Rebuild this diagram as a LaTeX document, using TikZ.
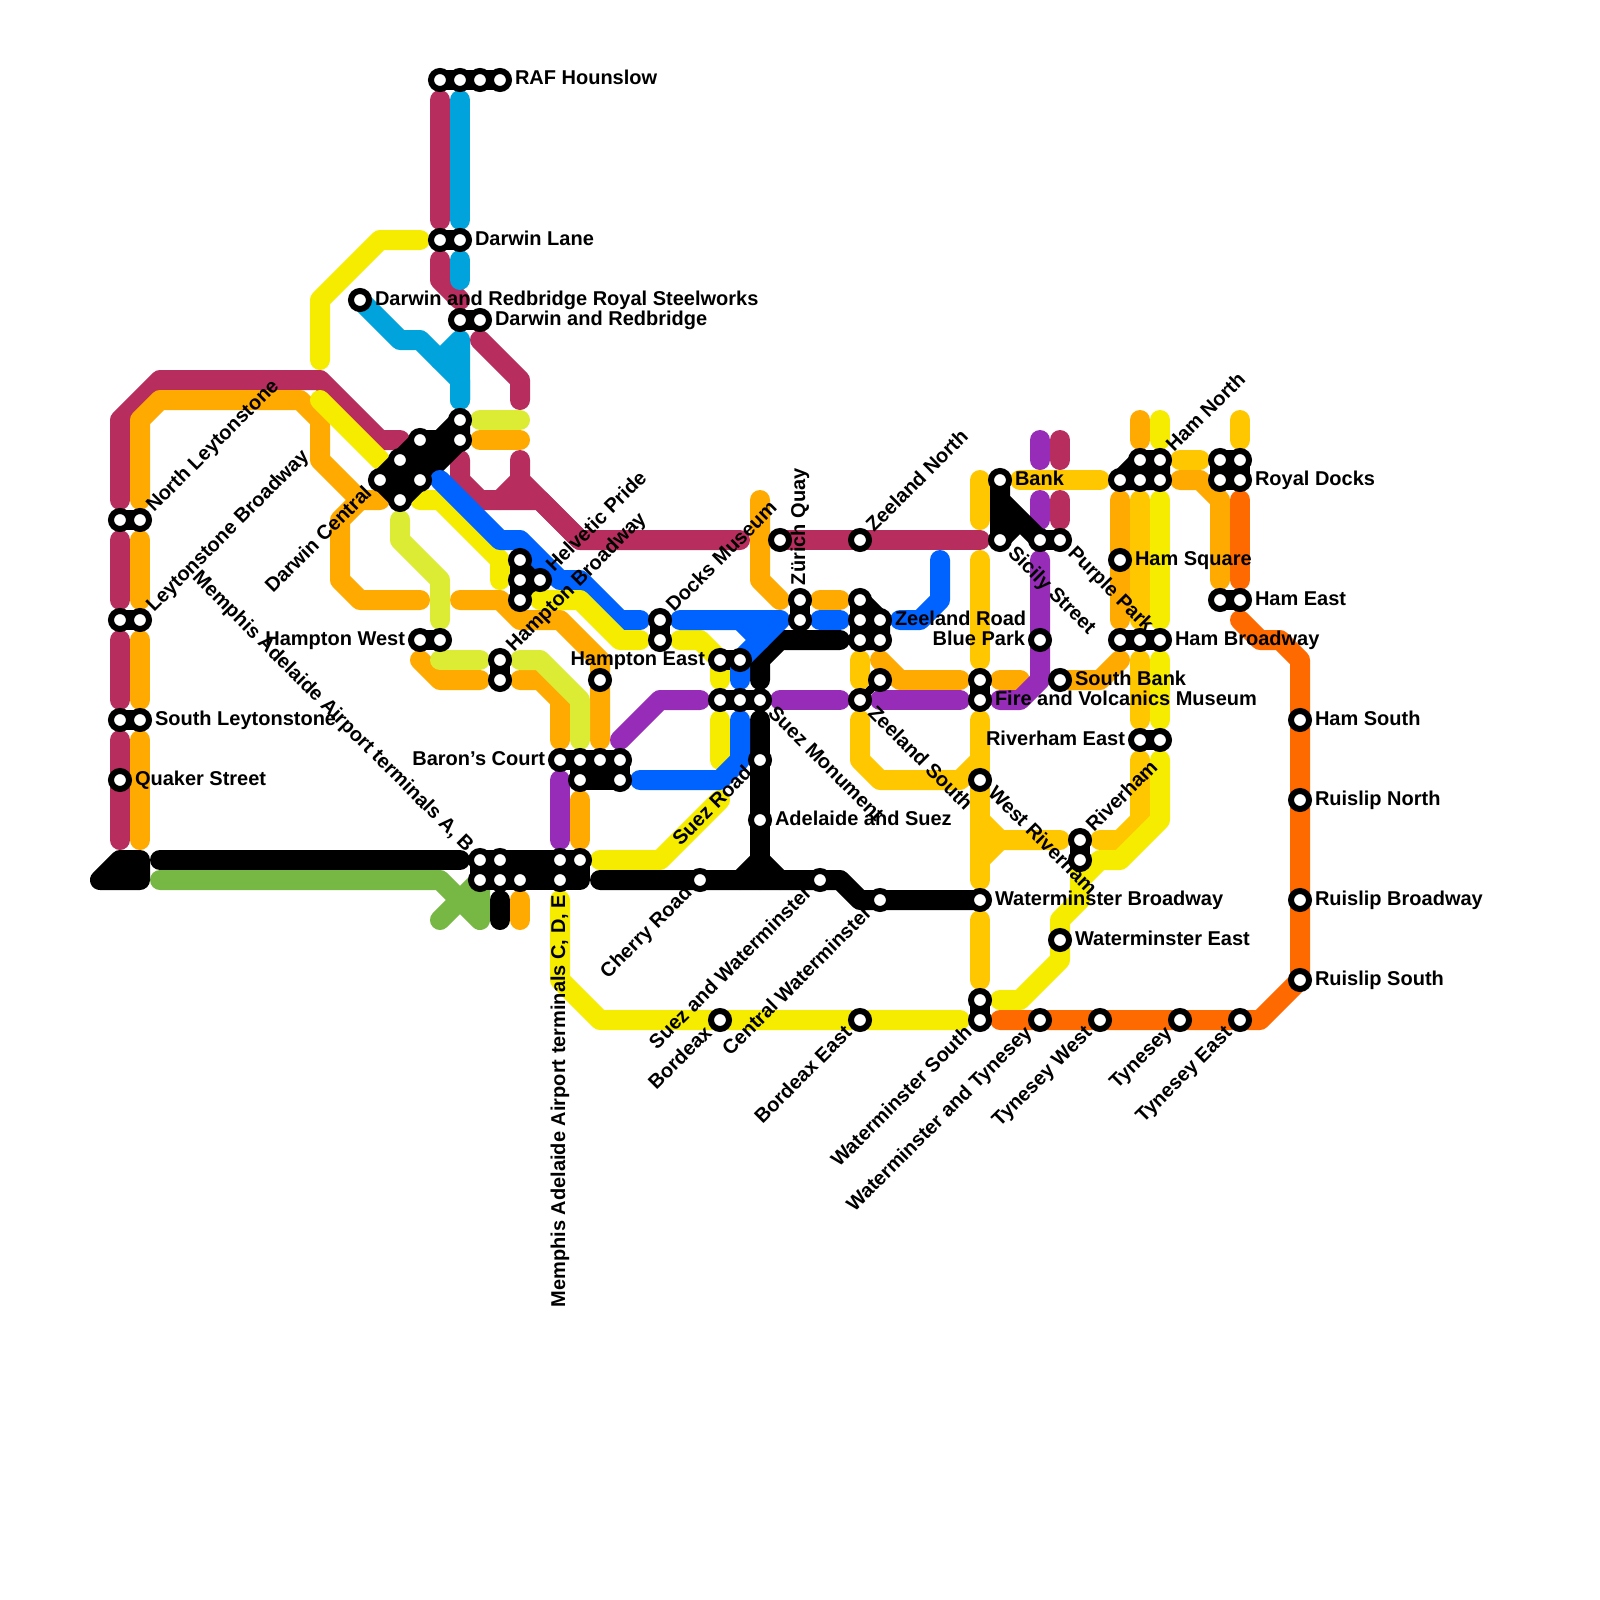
\documentclass[tikz,border=0pt]{standalone}
\usepackage{fontspec}
\setmainfont{Liberation Sans}
\definecolor{crim}{HTML}{B72E5E}
\definecolor{orng}{HTML}{FFAA00}
\definecolor{ambr}{HTML}{FFC700}
\definecolor{yell}{HTML}{F5EC00}
\definecolor{lime}{HTML}{DCEC35}
\definecolor{cyan}{HTML}{00A3DC}
\definecolor{blu}{HTML}{0062FF}
\definecolor{purp}{HTML}{972CB8}
\definecolor{dorg}{HTML}{FF6A00}
\definecolor{grn}{HTML}{76B843}
\pgfdeclarelayer{railsl}
\pgfdeclarelayer{linkl}
\pgfsetlayers{railsl,linkl,main}
\tikzset{
  rail/.style={line width=20pt,line cap=round,line join=round},
  crimrail/.style={rail,draw=crim},
  orngrail/.style={rail,draw=orng},
  ambrrail/.style={rail,draw=ambr},
  yellrail/.style={rail,draw=yell},
  limerail/.style={rail,draw=lime},
  cyanrail/.style={rail,draw=cyan},
  blurail/.style={rail,draw=blu},
  purprail/.style={rail,draw=purp},
  dorgrail/.style={rail,draw=dorg},
  grnrail/.style={rail,draw=grn},
  blackrail/.style={rail,draw=black},
  blackblock/.style={rail,draw=black,fill=black},
  thinlink/.style={line width=8pt,draw=black},
  stn/.style={circle,draw=black,fill=white,line width=6pt,minimum size=18pt,inner sep=0pt,outer sep=0pt},
  lab/.style={inner sep=0pt,outer sep=0pt,font=\fontsize{20}{22}\selectfont\bfseries},
}
\newcommand{\st}[3]{\node[stn] (#1) at (#2,#3) {};}
% label after: station, angle, text
\newcommand{\la}[3]{\pgfmathsetmacro{\cc}{cos(#2)}\pgfmathsetmacro{\ss}{sin(#2)}%
  \node[lab,rotate=#2,anchor=base west] (l#1) at ([shift={({15*\cc+5*\ss},{-15*\ss+5*\cc})}]#1.center) {#3};}
% label before: station, angle, text
\newcommand{\lb}[3]{\pgfmathsetmacro{\cc}{cos(#2)}\pgfmathsetmacro{\ss}{sin(#2)}%
  \node[lab,rotate=#2,anchor=base east] (l#1) at ([shift={({-15*\cc+5*\ss},{15*\ss+5*\cc})}]#1.center) {#3};}
\begin{document}
\begin{tikzpicture}[x=1pt,y=-1pt]
\useasboundingbox (0,0) rectangle (1600,1600);
\begin{pgfonlayer}{railsl}
\fill[white] (0,0) rectangle (1600,1600);
% crimson
\draw[crimrail] (440,100)--(440,220);
\draw[crimrail] (440,260)--(440,280)--(460,300);
\draw[crimrail] (480,340)--(520,380)--(520,400);
\draw[crimrail] (120,500)--(120,420)--(160,380)--(320,380)--(380,440)--(400,440);
\draw[crimrail] (460,460)--(460,480)--(480,500)--(540,500)--(580,540)--(740,540);
\draw[crimrail] (520,460)--(520,480)--(580,540);
\draw[crimrail] (500,500)--(520,480);
\draw[crimrail] (780,540)--(980,540);
\draw[crimrail] (120,540)--(120,600);
\draw[crimrail] (120,640)--(120,700);
\draw[crimrail] (120,740)--(120,840);
\draw[crimrail] (1060,440)--(1060,460);
\draw[crimrail] (1060,500)--(1060,520);
% orange
\draw[orngrail] (140,500)--(140,420)--(160,400)--(300,400)--(320,420)--(320,460)--(360,500)--(380,500);
\draw[orngrail] (360,500)--(340,520)--(340,580)--(360,600)--(420,600);
\draw[orngrail] (460,600)--(500,600)--(520,620)--(560,620)--(600,660)--(600,740);
\draw[orngrail] (420,660)--(440,680)--(480,680);
\draw[orngrail] (520,680)--(540,680)--(560,700)--(560,740);
\draw[orngrail] (760,500)--(760,580)--(780,600);
\draw[orngrail] (820,600)--(840,600);
\draw[orngrail] (880,660)--(900,680)--(960,680);
\draw[orngrail] (1000,680)--(1020,680);
\draw[orngrail] (1060,680)--(1100,680)--(1120,660);
\draw[orngrail] (580,800)--(580,840);
\draw[orngrail] (520,900)--(520,920);
\draw[orngrail] (140,540)--(140,600);
\draw[orngrail] (140,640)--(140,700);
\draw[orngrail] (140,740)--(140,840);
\draw[orngrail] (480,440)--(520,440);
\draw[orngrail] (1120,500)--(1120,620);
\draw[orngrail] (1140,420)--(1140,440);
\draw[orngrail] (1180,480)--(1200,480)--(1220,500)--(1220,580);
% amber
\draw[ambrrail] (980,480)--(980,520);
\draw[ambrrail] (980,560)--(980,660);
\draw[ambrrail] (1020,480)--(1100,480);
\draw[ambrrail] (1140,500)--(1140,620);
\draw[ambrrail] (1140,660)--(1140,720);
\draw[ambrrail] (1140,760)--(1140,820)--(1120,840)--(1100,840);
\draw[ambrrail] (1240,420)--(1240,440);
\draw[ambrrail] (1180,460)--(1200,460);
\draw[ambrrail] (860,660)--(860,680);
\draw[ambrrail] (860,720)--(860,760)--(880,780)--(960,780)--(980,760);
\draw[ambrrail] (980,720)--(980,880);
\draw[ambrrail] (980,820)--(1000,840)--(1060,840);
\draw[ambrrail] (980,860)--(1000,840);
\draw[ambrrail] (980,920)--(980,980);
% yellow
\draw[yellrail] (320,360)--(320,300)--(380,240)--(420,240);
\draw[yellrail] (320,400)--(380,460);
\draw[yellrail] (420,500)--(440,500)--(500,560)--(500,580);
\draw[yellrail] (680,640)--(700,640)--(720,660)--(720,680);
\draw[yellrail] (720,720)--(720,760);
\draw[yellrail] (600,860)--(660,860)--(720,800);
\draw[yellrail] (560,900)--(560,980)--(600,1020)--(960,1020);
\draw[yellrail] (1160,420)--(1160,440);
\draw[yellrail] (1160,500)--(1160,620);
\draw[yellrail] (1160,660)--(1160,720);
\draw[yellrail] (1160,760)--(1160,820)--(1120,860)--(1100,860)--(1080,880)--(1080,900)--(1060,920)--(1060,960)--(1020,1000)--(1000,1000);
\draw[yellrail] (1080,860)--(1080,880);
% lime
\draw[limerail] (480,420)--(520,420);
\draw[limerail] (400,520)--(400,540)--(440,580)--(440,620);
\draw[limerail] (440,660)--(480,660);
\draw[limerail] (520,660)--(540,660)--(580,700)--(580,740);
% cyan
\draw[cyanrail] (460,100)--(460,220);
\draw[cyanrail] (460,260)--(460,280);
\draw[cyanrail] (360,300)--(400,340)--(420,340)--(460,380)--(460,400);
\draw[cyanrail] (440,360)--(460,340)--(460,400);
% purple
\draw[purprail] (1040,440)--(1040,460);
\draw[purprail] (1040,500)--(1040,520);
\draw[purprail] (1040,560)--(1040,680)--(1020,700)--(1000,700);
\draw[purprail] (880,700)--(960,700);
\draw[purprail] (780,700)--(840,700);
\draw[purprail] (620,740)--(660,700)--(700,700);
\draw[purprail] (560,780)--(560,840);
% bright orange
\draw[dorgrail] (1240,500)--(1240,580);
\draw[dorgrail] (1240,620)--(1260,640)--(1280,640)--(1300,660)--(1300,980)--(1260,1020)--(1000,1020);
% green
\draw[grnrail] (160,880)--(440,880)--(480,920)--(480,880)--(440,920);
\end{pgfonlayer}
% blue runs over the black lines
\draw[blurail] (440,480)--(500,540)--(520,540)--(560,580)--(580,580)--(620,620)--(640,620);
\draw[yellrail] (540,600)--(580,600)--(620,640)--(640,640);
\draw[blurail] (680,620)--(780,620)--(740,660)--(740,680);
\draw[blurail] (740,620)--(760,640);
\draw[blurail] (740,720)--(740,760)--(720,780)--(640,780);
\draw[blurail] (820,620)--(840,620);
\draw[blurail] (900,620)--(920,620)--(940,600)--(940,560);
% stations
\st{rafa}{440}{80}\st{rafb}{460}{80}\st{rafc}{480}{80}\st{rafd}{500}{80}
\st{dla}{440}{240}\st{dlb}{460}{240}
\st{drs}{360}{300}
\st{dra}{460}{320}\st{drb}{480}{320}
\st{hba}{460}{420}\st{hbb}{460}{440}\st{hbc}{420}{440}\st{hbd}{400}{460}\st{hbe}{380}{480}\st{hbf}{420}{480}\st{hbg}{400}{500}
\st{nla}{120}{520}\st{nlb}{140}{520}
\st{lba}{120}{620}\st{lbb}{140}{620}
\st{sla}{120}{720}\st{slb}{140}{720}
\st{qs}{120}{780}
\st{hwa}{420}{640}\st{hwb}{440}{640}
\st{hma}{500}{660}\st{hmb}{500}{680}
\st{hpa}{520}{560}\st{hpb}{520}{580}\st{hpc}{520}{600}\st{hpd}{540}{580}
\st{hsx}{600}{680}
\st{hea}{720}{660}\st{heb}{740}{660}
\st{sma}{720}{700}\st{smb}{740}{700}\st{smc}{760}{700}
\st{dma}{660}{620}\st{dmb}{660}{640}
\st{zqa}{800}{600}\st{zqb}{800}{620}
\st{zqx}{780}{540}
\st{bca}{560}{760}\st{bcb}{580}{760}\st{bcc}{600}{760}\st{bcd}{620}{760}\st{bce}{580}{780}\st{bcf}{620}{780}
\st{srd}{760}{760}\st{ads}{760}{820}
\st{mpa}{480}{860}\st{mpb}{500}{860}\st{mpc}{560}{860}\st{mpd}{580}{860}
\st{mpe}{480}{880}\st{mpf}{500}{880}\st{mpg}{520}{880}\st{mph}{560}{880}
\st{chr}{700}{880}\st{saw}{820}{880}\st{cwm}{880}{900}\st{wbr}{980}{900}
\st{zn}{860}{540}
\st{zra}{860}{600}\st{zrb}{860}{620}\st{zrc}{860}{640}\st{zrd}{880}{620}\st{zre}{880}{640}
\st{bp}{1040}{640}
\st{zsa}{860}{700}\st{zsb}{880}{680}
\st{bnk}{1000}{480}\st{sic}{1000}{540}\st{ppa}{1040}{540}\st{ppb}{1060}{540}
\st{fva}{980}{680}\st{fvb}{980}{700}
\st{wr}{980}{780}\st{sb}{1060}{680}\st{we}{1060}{940}
\st{rva}{1080}{840}\st{rvb}{1080}{860}
\st{hna}{1120}{480}\st{hnb}{1140}{480}\st{hnc}{1160}{480}\st{hnd}{1140}{460}\st{hne}{1160}{460}
\st{rda}{1220}{460}\st{rdb}{1240}{460}\st{rdc}{1220}{480}\st{rdd}{1240}{480}
\st{hsq}{1120}{560}
\st{hea2}{1220}{600}\st{heb2}{1240}{600}
\st{hbra}{1120}{640}\st{hbrb}{1140}{640}\st{hbrc}{1160}{640}
\st{rea}{1140}{740}\st{reb}{1160}{740}
\st{hso}{1300}{720}\st{rn}{1300}{800}\st{rb}{1300}{900}\st{rs}{1300}{980}
\st{wsa}{980}{1000}\st{wsb}{980}{1020}
\st{wt}{1040}{1020}\st{tw}{1100}{1020}\st{ty}{1180}{1020}\st{te}{1240}{1020}
\st{bdx}{720}{1020}\st{bde}{860}{1020}
% black lines and station links, layered beneath stations
\begin{pgfonlayer}{linkl}
\draw[blackblock] (100,880)--(120,860)--(140,860)--(140,880)--cycle;
\draw[blackrail] (160,860)--(460,860);
\draw[blackrail] (600,880)--(840,880)--(860,900)--(980,900);
\draw[blackrail] (760,720)--(760,880);
\draw[blackrail] (740,880)--(760,860)--(780,880);
\draw[blackrail] (760,680)--(760,660)--(780,640)--(840,640);
\draw[blackrail] (500,900)--(500,920);
\draw[blackrail] (rafa.center)--(rafd.center);
\draw[blackrail] (dla.center)--(dlb.center);
\draw[blackrail] (dra.center)--(drb.center);
\draw[blackblock] (hba.center)--(hbb.center)--(hbf.center)--(hbg.center)--(hbe.center)--(hbc.center)--(440,440)--cycle;
\draw[blackrail] (nla.center)--(nlb.center);
\draw[blackrail] (lba.center)--(lbb.center);
\draw[blackrail] (sla.center)--(slb.center);
\draw[blackrail] (hwa.center)--(hwb.center);
\draw[blackrail] (hma.center)--(hmb.center);
\draw[blackblock] (hpa.center)--(hpc.center)--(hpd.center)--cycle;
\draw[blackrail] (hea.center)--(heb.center);
\draw[blackrail] (sma.center)--(smc.center);
\draw[blackrail] (dma.center)--(dmb.center);
\draw[blackrail] (zqa.center)--(zqb.center);
\draw[blackblock] (bca.center)--(bcd.center)--(bcf.center)--(bce.center)--(bcb.center);
\draw[blackblock] (mpa.center)--(mpd.center)--(580,880)--(mpe.center)--cycle;
\draw[blackblock] (zra.center)--(zrd.center)--(zre.center)--(zrc.center)--cycle;
\draw[thinlink] (zsa.center)--(zsb.center);
\draw[blackblock] (bnk.center)--(sic.center)--(1020,520)--(ppa.center)--(1000,500)--cycle;
\draw[blackrail] (ppa.center)--(ppb.center);
\draw[blackrail] (fva.center)--(fvb.center);
\draw[blackrail] (rva.center)--(rvb.center);
\draw[blackblock] (hna.center)--(hnd.center)--(hne.center)--(hnc.center)--cycle;
\draw[blackblock] (rda.center)--(rdb.center)--(rdd.center)--(rdc.center)--cycle;
\draw[blackrail] (hea2.center)--(heb2.center);
\draw[blackrail] (hbra.center)--(hbrc.center);
\draw[blackrail] (rea.center)--(reb.center);
\draw[blackrail] (wsa.center)--(wsb.center);
\end{pgfonlayer}
% labels
\la{rafd}{0}{RAF Hounslow}
\la{dlb}{0}{Darwin Lane}
\la{drs}{0}{Darwin and Redbridge Royal Steelworks}
\la{drb}{0}{Darwin and Redbridge}
\la{nlb}{45}{North Leytonstone}
\la{lbb}{45}{Leytonstone Broadway}
\la{slb}{0}{South Leytonstone}
\la{qs}{0}{Quaker Street}
\lb{hbe}{45}{Darwin Central}
\lb{hwa}{0}{Hampton West}
\la{hma}{45}{Hampton Broadway}
\la{hpd}{45}{Helvetic Pride}
\lb{mpa}{-45}{Memphis Adelaide Airport terminals A, B}
\lb{mph}{90}{Memphis Adelaide Airport terminals C, D, E}
\lb{bca}{0}{Baron’s Court}
\la{dma}{45}{Docks Museum}
\la{zqa}{90}{Zürich Quay}
\la{zn}{45}{Zeeland North}
\lb{hea}{0}{Hampton East}
\la{smc}{-45}{Suez Monument}
\lb{srd}{45}{Suez Road}
\la{ads}{0}{Adelaide and Suez}
\lb{chr}{45}{Cherry Road}
\lb{saw}{45}{Suez and Waterminster}
\lb{cwm}{45}{Central Waterminster}
\la{wbr}{0}{Waterminster Broadway}
\la{zrd}{0}{Zeeland Road}
\lb{bp}{0}{Blue Park}
\la{zsa}{-45}{Zeeland South}
\la{bnk}{0}{Bank}
\la{sic}{-45}{Sicily Street}
\la{ppb}{-45}{Purple Park}
\la{sb}{0}{South Bank}
\la{fvb}{0}{Fire and Volcanics Museum}
\la{wr}{-45}{West Riverham}
\la{rva}{45}{Riverham}
\la{we}{0}{Waterminster East}
\la{hne}{45}{Ham North}
\la{rdd}{0}{Royal Docks}
\la{hsq}{0}{Ham Square}
\la{heb2}{0}{Ham East}
\la{hbrc}{0}{Ham Broadway}
\lb{rea}{0}{Riverham East}
\la{hso}{0}{Ham South}
\la{rn}{0}{Ruislip North}
\la{rb}{0}{Ruislip Broadway}
\la{rs}{0}{Ruislip South}
\lb{bdx}{45}{Bordeax}
\lb{bde}{45}{Bordeax East}
\lb{wsb}{45}{Waterminster South}
\lb{wt}{45}{Waterminster and Tynesey}
\lb{tw}{45}{Tynesey West}
\lb{ty}{45}{Tynesey}
\lb{te}{45}{Tynesey East}
\end{tikzpicture}
\end{document}
